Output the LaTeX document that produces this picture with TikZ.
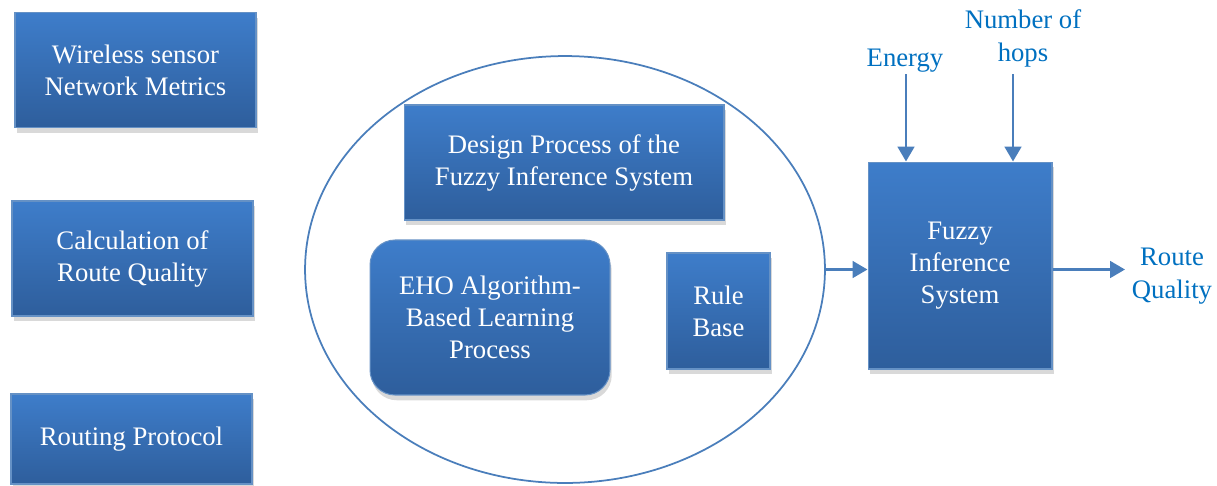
\documentclass[tikz,border=0pt]{standalone}
\usepackage{fontspec}
\setmainfont{Liberation Serif}
\usepackage{xcolor}
\usetikzlibrary{shapes.geometric,shadows,arrows.meta}
\definecolor{boxtop}{HTML}{3E7DCA}
\definecolor{boxbot}{HTML}{2E5E9C}
\definecolor{linkblue}{HTML}{4A7EBB}
\definecolor{labelblue}{HTML}{0070C0}

\begin{document}
\begin{tikzpicture}[x=0.02cm,y=-0.02cm,
  blockbox/.style={draw=linkblue!85!white,line width=0.6pt,top color=boxtop,bottom color=boxbot,text=white,align=center,inner sep=0pt,font=\fontsize{15.2}{18.2}\selectfont,drop shadow={shadow xshift=1pt,shadow yshift=-3pt,opacity=0.3}},
  inlabel/.style={text=labelblue,align=center,inner sep=0pt,font=\fontsize{15.2}{18.8}\selectfont},
  feed/.style={draw=linkblue,line width=1.5pt,-{Triangle[length=8.5pt,width=9.5pt]}}]
\useasboundingbox (0,0) rectangle (1217,485);
\node[blockbox,minimum width=4.82cm,minimum height=2.3cm] (metrics) at (135.5,70) {Wireless sensor\\Network Metrics};
\node[blockbox,minimum width=4.82cm,minimum height=2.3cm] (calc) at (132.5,258.5) {Calculation of\\Route Quality};
\node[blockbox,minimum width=4.82cm,minimum height=1.8cm] (routing) at (131.5,439) {Routing Protocol};
\node[ellipse,draw=linkblue,line width=1pt,inner sep=0pt,minimum width=10.4cm,minimum height=8.54cm] (ring) at (565,269.5) {};
\node[blockbox,minimum width=6.4cm,minimum height=2.3cm] (design) at (564,162.5) {Design Process of the\\Fuzzy Inference System};
\node[blockbox,rounded corners=0.5cm,minimum width=4.8cm,minimum height=3.1cm] (eho) at (490,317.5) {EHO Algorithm-\\Based Learning\\Process};
\node[blockbox,minimum width=2.06cm,minimum height=2.32cm] (rules) at (718.5,311) {Rule\\Base};
\node[blockbox,minimum width=3.68cm,minimum height=4.14cm] (fis) at (960,265.5) {Fuzzy\\Inference\\System};
\node[inlabel] (energy) at (905,61) {Energy};
\node[inlabel] (hops) at (1023,38) {Number of\\hops};
\node[inlabel] (quality) at (1172,276) {Route\\Quality};
\coordinate (etop) at (906,74);
\coordinate (htop) at (1013,74);
\coordinate (qout) at (1125,269.5);
\draw[feed] (etop) -- (etop |- fis.north);
\draw[feed] (htop) -- (htop |- fis.north);
\draw[feed] (ring.east) -- (ring.east -| fis.west);
\draw[feed] (fis.east |- qout) -- (qout);
\end{tikzpicture}
\end{document}
